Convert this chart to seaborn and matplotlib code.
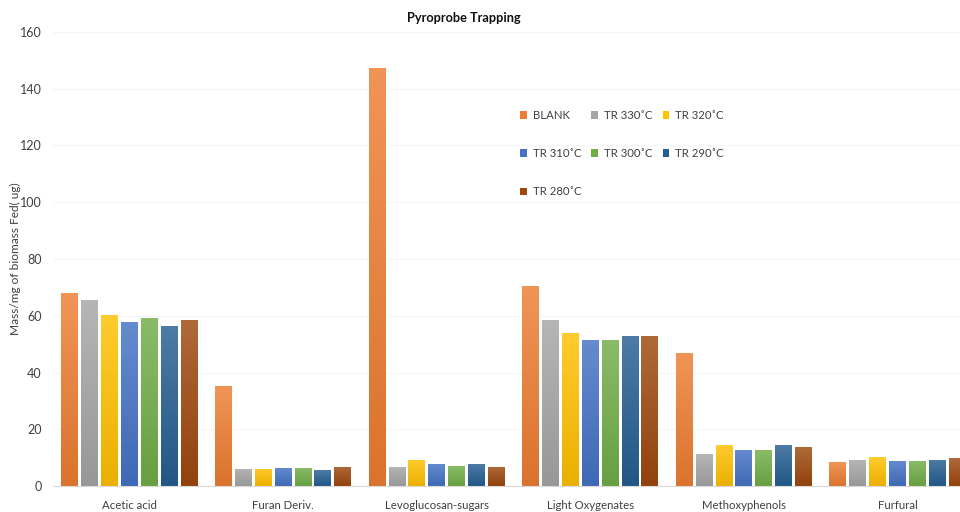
import numpy as np
import pandas as pd
import matplotlib
matplotlib.use("Agg")
import matplotlib.pyplot as plt
import seaborn as sns
from matplotlib.patches import Patch, Rectangle
from matplotlib.colors import to_rgb

categories = ["Acetic acid", "Furan Deriv.", "Levoglucosan-sugars",
              "Light Oxygenates", "Methoxyphenols", "Furfural"]
series = ["BLANK", "TR 330˚C", "TR 320˚C", "TR 310˚C", "TR 300˚C", "TR 290˚C", "TR 280˚C"]
blank = [68.0, 35.2, 147.3, 70.5, 47.0, 8.3]
tr330 = [65.5, 6.1, 6.7, 58.5, 11.2, 9.0]
tr320 = [60.2, 6.1, 9.2, 53.9, 14.6, 10.2]
tr310 = [57.9, 6.5, 7.9, 51.5, 12.6, 8.9]
tr300 = [59.3, 6.5, 7.0, 51.5, 12.6, 8.9]
tr290 = [56.4, 5.6, 7.6, 52.9, 14.3, 9.3]
tr280 = [58.6, 6.8, 6.8, 52.9, 13.7, 9.8]
y_ticks = [0, 20, 40, 60, 80, 100, 120, 140, 160]
colors = ["#ED7D31", "#A5A5A5", "#FFC000", "#4472C4", "#70AD47", "#255E91", "#9E480E"]

values = [blank, tr330, tr320, tr310, tr300, tr290, tr280]
rows = []
for s, vals in zip(series, values):
    for c, v in zip(categories, vals):
        rows.append({"Category": c, "Series": s, "Value": v})
df = pd.DataFrame(rows)

sns.set_theme(style="white")
FONT = ["Lato", "DejaVu Sans"]
plt.rcParams["font.family"] = FONT

fig = plt.figure(figsize=(9.6, 5.12), dpi=100)
W, H = 960, 512
left_px, right_px = 52.7, 960
top_px, bot_px = 32, 486
ax = fig.add_axes([left_px / W, (H - bot_px) / H, (right_px - left_px) / W, (bot_px - top_px) / H])

sns.barplot(data=df, x="Category", y="Value", hue="Series", order=categories,
            hue_order=series, palette=colors, width=0.905, gap=0.15,
            saturation=1, legend=False, ax=ax, errorbar=None)

XLIM = (-0.5, 5.5 - (974.3 - 960) / 153.6)

def shade(col, f):
    r = np.array(to_rgb(col))
    if f >= 0:
        return r + (1 - r) * f
    return r * (1 + f)

for p in list(ax.patches):
    if not isinstance(p, Rectangle) or p.get_height() <= 0:
        continue
    fc = p.get_facecolor()[:3]
    x0, y0 = p.get_x(), p.get_y()
    w, h = p.get_width(), p.get_height()
    n = 64
    t = np.linspace(0, 1, n)[:, None]
    top = shade(fc, 0.18)
    bot = shade(fc, -0.08)
    grad = (1 - t) * top + t * bot
    img = np.repeat(grad[:, None, :], 2, axis=1)
    im = ax.imshow(img, extent=[x0, x0 + w, y0, y0 + h], origin="upper",
                   aspect="auto", zorder=p.get_zorder() + 0.1, interpolation="bilinear")
    im.set_clip_path(p)

ax.set_ylim(0, 160)
ax.set_xlim(*XLIM)

ax.set_yticks(y_ticks)
ax.set_yticklabels([str(v) for v in y_ticks], fontsize=9, color="#404040")
ax.tick_params(axis="y", length=0, pad=8)
ax.tick_params(axis="x", length=0, pad=10, labelsize=8.2, labelcolor="#404040")
ax.set_xlabel("")
ax.set_ylabel("")
fig.text(15 / W, 1 - 259 / H, "Mass/mg of biomass Fed( ug)", rotation=90,
         ha="center", va="center", fontsize=8.6, color="#404040")
ax.yaxis.grid(True, color="#f5f5f5", linewidth=0.8)
ax.set_axisbelow(True)
for s in ["top", "right", "left"]:
    ax.spines[s].set_visible(False)
ax.spines["bottom"].set_color("#d9d9d9")
ax.spines["bottom"].set_linewidth(0.8)

fig.text(464 / W, 1 - 18 / H, "Pyroprobe Trapping", ha="center", va="center",
         fontsize=9.2, fontweight="bold", color="#111111")

# row-major legend order for a 3-column layout
order = [0, 3, 6, 1, 4, 2, 5]
handles = [Patch(facecolor=colors[i], edgecolor="none", label=series[i]) for i in order]
leg = fig.legend(handles=handles, ncol=3, loc="upper left",
                 bbox_to_anchor=(520 / W, 1 - 110 / H), frameon=False,
                 fontsize=8.2, handlelength=0.6, handleheight=0.6,
                 handletextpad=0.5, columnspacing=0.9, labelspacing=2.38,
                 borderpad=0, borderaxespad=0)
for t in leg.get_texts():
    t.set_color("#404040")

fig.savefig("out.png", dpi=100)
